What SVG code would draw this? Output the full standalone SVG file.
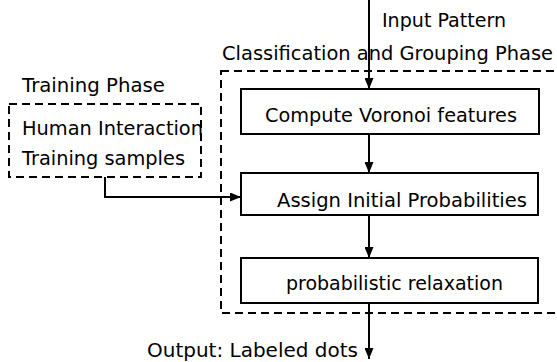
<svg xmlns="http://www.w3.org/2000/svg" width="557" height="362" viewBox="0 0 557 362">
<style>
text{font-family:"DejaVu Sans","Liberation Sans",sans-serif;font-size:19px;fill:#000}
.box{fill:#fff;stroke:#000;stroke-width:2}
.dash{fill:none;stroke:#000;stroke-width:2;stroke-dasharray:8 5}
.conn{fill:none;stroke:#000;stroke-width:2}
</style>
<defs>
<marker id="ah" markerUnits="userSpaceOnUse" markerWidth="11" markerHeight="9" refX="11" refY="4.5" orient="auto">
<path d="M0,0 L11,4.5 L0,9 z" fill="#000"/>
</marker>
</defs>
<rect width="557" height="362" fill="#fff"/>
<g id="classification-phase">
<rect class="dash" x="221" y="71" width="345" height="242"/>
<text x="222" y="60" textLength="331" lengthAdjust="spacingAndGlyphs">Classification and Grouping Phase</text>
</g>
<g id="training-phase">
<text x="22" y="92" textLength="143" lengthAdjust="spacingAndGlyphs">Training Phase</text>
<text x="22" y="135" textLength="181" lengthAdjust="spacingAndGlyphs">Human Interaction</text>
<text x="22" y="165" textLength="163" lengthAdjust="spacingAndGlyphs">Training samples</text>
<rect class="dash" x="9" y="104" width="192" height="73"/>
</g>
<g id="compute">
<rect class="box" x="241" y="89" width="298" height="45"/>
<text x="265" y="122" textLength="252" lengthAdjust="spacingAndGlyphs">Compute Voronoi features</text>
</g>
<g id="assign">
<rect class="box" x="241" y="173" width="297" height="42"/>
<text x="277" y="207" textLength="250" lengthAdjust="spacingAndGlyphs">Assign Initial Probabilities</text>
</g>
<g id="relax">
<rect class="box" x="241" y="258" width="297" height="45"/>
<text x="286" y="290" textLength="217" lengthAdjust="spacingAndGlyphs">probabilistic relaxation</text>
</g>
<g id="input-label">
<text x="382" y="27" textLength="124" lengthAdjust="spacingAndGlyphs">Input Pattern</text>
</g>
<g id="output-label">
<text x="147" y="357" textLength="211" lengthAdjust="spacingAndGlyphs">Output: Labeled dots</text>
</g>
<g id="connectors">
<line class="conn" x1="369" y1="0" x2="369" y2="89" marker-end="url(#ah)"/>
<line class="conn" x1="369" y1="134" x2="369" y2="173" marker-end="url(#ah)"/>
<line class="conn" x1="369" y1="215" x2="369" y2="258" marker-end="url(#ah)"/>
<line class="conn" x1="369" y1="303" x2="369" y2="359" marker-end="url(#ah)"/>
<polyline class="conn" points="105,177 105,197 241,197" marker-end="url(#ah)"/>
</g>
</svg>
